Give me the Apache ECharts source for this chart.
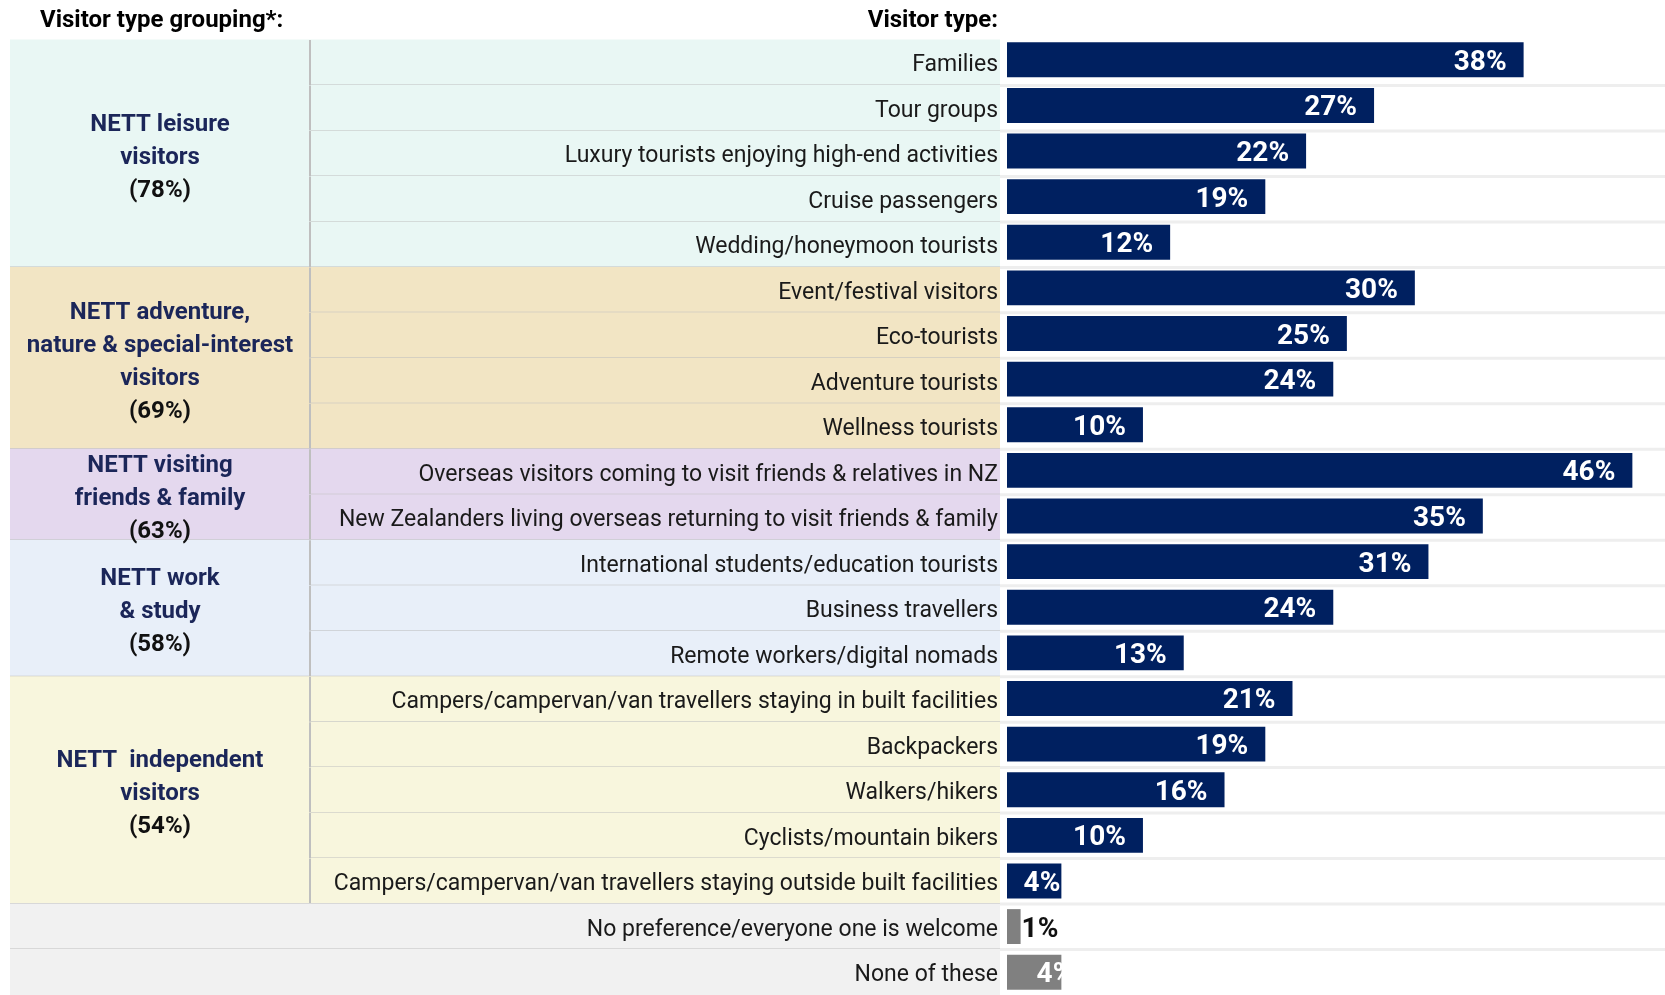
<!DOCTYPE html>
<html>
<head>
<meta charset="utf-8">
<script src="https://cdn.jsdelivr.net/npm/echarts@6/dist/echarts.min.js"></script>
<style>html,body{margin:0;padding:0;background:#fff;}#c{width:1665px;height:995px;}</style>
</head>
<body>
<div id="c"></div>
<script>
// ---- data ----
const categories = [
  'Families',
  'Tour groups',
  'Luxury tourists enjoying high-end activities',
  'Cruise passengers',
  'Wedding/honeymoon tourists',
  'Event/festival visitors',
  'Eco-tourists',
  'Adventure tourists',
  'Wellness tourists',
  'Overseas visitors coming to visit friends & relatives in NZ',
  'New Zealanders living overseas returning to visit friends & family',
  'International students/education tourists',
  'Business travellers',
  'Remote workers/digital nomads',
  'Campers/campervan/van travellers staying in built facilities',
  'Backpackers',
  'Walkers/hikers',
  'Cyclists/mountain bikers',
  'Campers/campervan/van travellers staying outside built facilities',
  'No preference/everyone one is welcome',
  'None of these'
];
const values = [38, 27, 22, 19, 12, 30, 25, 24, 10, 46, 35, 31, 24, 13, 21, 19, 16, 10, 4, 1, 4];
const groupLines = [
  ['NETT leisure', 'visitors'],
  ['NETT adventure,', 'nature & special-interest', 'visitors'],
  ['NETT visiting', 'friends & family'],
  ['NETT work', '& study'],
  ['NETT  independent', 'visitors']
];
const groupTotals = ['(78%)', '(69%)', '(63%)', '(58%)', '(54%)'];
const groupSizes = [5, 4, 2, 3, 5];

// ---- styling ----
const groupColors = ['#e9f7f4', '#f2e5c4', '#e4d8ee', '#e8eff9', '#f8f6dd'];
const otherColor = '#f1f1f1';
const navy = '#002060';
const grey = '#808080';
const FONT = 'Roboto, "Liberation Sans", sans-serif';

// derive group membership per row
const rowGroup = [];
const groupStart = [];
groupSizes.forEach((n, g) => { groupStart.push(rowGroup.length); for (let k = 0; k < n; k++) rowGroup.push(g); });
while (rowGroup.length < categories.length) rowGroup.push(-1);

const DIV = 300, LABEL_END = 990, FULL = 1655;

function renderCells(params, api) {
  const i = api.value(1);
  const bandH = api.size([0, 1])[1];
  const c = api.coord([0, i]);
  const y0 = c[1] - bandH / 2, y1 = c[1] + bandH / 2;
  const xL = c[0];
  const xD = api.coord([DIV, i])[0];
  const xE = api.coord([LABEL_END, i])[0];
  const xR = api.coord([FULL, i])[0];
  const g = rowGroup[i];
  const last = i === categories.length - 1;
  const groupEnd = g < 0 || i === groupStart[g] + groupSizes[g] - 1;
  const children = [];
  children.push({ type: 'rect', shape: { x: xL, y: y0 - 0.5, width: xE - xL, height: bandH + 1 },
    style: { fill: g < 0 ? otherColor : groupColors[g] } });
  if (g >= 0) {
    children.push({ type: 'line', shape: { x1: xD, y1: y0, x2: xD, y2: y1 },
      style: { stroke: '#bfbfbf', lineWidth: 2 } });
  }
  if (!last) {
    children.push({ type: 'line', shape: { x1: groupEnd ? xL : xD, y1: y1, x2: xE, y2: y1 },
      style: { stroke: '#bfbfbf', lineWidth: 2 } });
    children.push({ type: 'line', shape: { x1: xE, y1: y1, x2: xR, y2: y1 },
      style: { stroke: '#eeeeee', lineWidth: 3 } });
  }
  children.push({ type: 'text', style: {
    x: xE - 2, y: c[1] + 3, text: categories[i], align: 'right', verticalAlign: 'middle',
    fill: '#1a1a1a', fontFamily: FONT, fontSize: 23 } });
  return { type: 'group', children: children };
}

function renderGroupLabels(params, api) {
  const g = api.value(0);
  const bandH = api.size([0, 1])[1];
  const f = groupStart[g], l = f + groupSizes[g] - 1;
  const yTop = api.coord([0, f])[1] - bandH / 2;
  const yBot = api.coord([0, l])[1] + bandH / 2;
  const xL = api.coord([0, f])[0];
  const xD = api.coord([DIV, f])[0];
  const txt = groupLines[g].map(s => '{n|' + s + '}').join('\n') + '\n{p|' + groupTotals[g] + '}';
  return { type: 'text', style: {
    x: (xL + xD) / 2, y: (yTop + yBot) / 2 + 4, text: txt, align: 'center', verticalAlign: 'middle',
    rich: {
      n: { fill: '#1b2659', fontSize: 24, fontWeight: 'bold', fontFamily: FONT, lineHeight: 33, align: 'center' },
      p: { fill: '#111111', fontSize: 24, fontWeight: 'bold', fontFamily: FONT, lineHeight: 33, align: 'center' }
    } } };
}

const barData = values.map((v, i) => {
  const item = { value: v, itemStyle: { color: i >= 19 ? grey : navy } };
  if (v <= 1) {
    item.label = { position: 'right', distance: 1, color: '#111' };
  } else if (i === categories.length - 1) {
    item.label = { position: 'insideRight', distance: -12 };
  } else if (v <= 4) {
    item.label = { position: 'insideRight', distance: 1 };
  }
  return item;
});

const chart = echarts.init(document.getElementById('c'), null, { renderer: 'canvas' });
chart.setOption({
  animation: false,
  backgroundColor: '#ffffff',
  title: [
    { text: 'Visitor type grouping*:', left: 35, top: 4,
      textStyle: { fontFamily: FONT, fontSize: 24, fontWeight: 'bold', color: '#000' } },
    { text: 'Visitor type:', right: 662, top: 4,
      textStyle: { fontFamily: FONT, fontSize: 24, fontWeight: 'bold', color: '#000' } }
  ],
  grid: [
    { left: 10, right: 0, top: 40, height: 955 },
    { left: 1007, right: 0, top: 37, height: 961 }
  ],
  xAxis: [
    { gridIndex: 0, type: 'value', min: 0, max: FULL, show: false },
    { gridIndex: 1, type: 'value', min: 0, max: 48.4, show: false }
  ],
  yAxis: [
    { gridIndex: 0, type: 'category', inverse: true, data: categories, show: false },
    { gridIndex: 1, type: 'category', inverse: true, data: categories, show: false }
  ],
  series: [
    { type: 'custom', xAxisIndex: 0, yAxisIndex: 0, z: 0, silent: true,
      data: categories.map((c, i) => [0, i]), encode: { x: 0, y: 1 }, renderItem: renderCells },
    { type: 'custom', xAxisIndex: 0, yAxisIndex: 0, z: 4, silent: true,
      data: groupSizes.map((n, g) => [g]), encode: { x: 0 }, renderItem: renderGroupLabels },
    { type: 'bar', xAxisIndex: 1, yAxisIndex: 1, z: 3, barCategoryGap: '23.5%',
      data: barData,
      label: { show: true, position: 'insideRight', distance: 17, offset: [0, 3], formatter: '{c}%',
        color: '#ffffff', fontFamily: FONT, fontSize: 28, fontWeight: 'bold' } }
  ]
});
</script>
</body>
</html>
